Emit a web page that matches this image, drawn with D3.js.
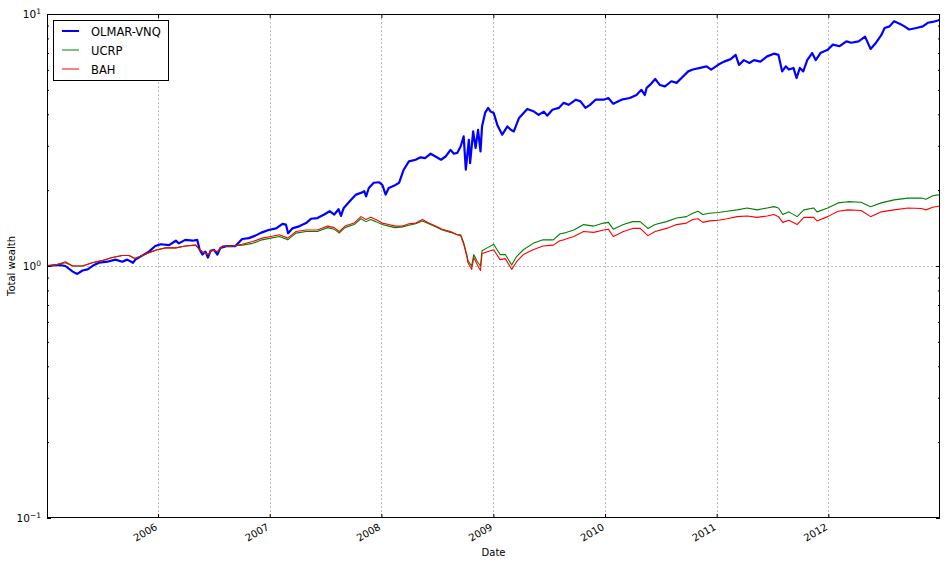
<!DOCTYPE html>
<html>
<head>
<meta charset="utf-8">
<script src="https://cdn.jsdelivr.net/npm/d3@7"></script>
<style>
body { margin: 0; background: #fff; }
svg { display: block; font-family: "DejaVu Sans", sans-serif; }
</style>
</head>
<body>
<div id="chart"></div>
<script>
// OLMAR-VNQ total wealth
const olmarDates = [
    '2005-01-03','2005-02-11','2005-03-04','2005-03-28','2005-04-12','2005-04-29','2005-05-16','2005-06-06',
    '2005-06-22','2005-07-19','2005-08-15','2005-09-06','2005-09-22','2005-10-11','2005-10-19','2005-11-10',
    '2005-12-02','2005-12-23','2006-01-10','2006-02-06','2006-02-28','2006-03-10','2006-03-31','2006-04-24',
    '2006-05-09','2006-05-17','2006-05-26','2006-06-05','2006-06-13','2006-06-22','2006-07-03','2006-07-14',
    '2006-07-24','2006-08-15','2006-09-11','2006-10-03','2006-10-25','2006-11-15','2006-12-07','2006-12-28',
    '2007-01-22','2007-02-12','2007-02-23','2007-03-02','2007-03-16','2007-04-09','2007-04-30','2007-05-16',
    '2007-06-06','2007-06-28','2007-07-16','2007-07-31','2007-08-14','2007-08-22','2007-08-31','2007-09-24',
    '2007-10-10','2007-10-26','2007-11-06','2007-11-12','2007-11-21','2007-12-07','2007-12-24','2008-01-04',
    '2008-01-15','2008-01-25','2008-02-11','2008-02-28','2008-03-14','2008-03-31','2008-04-22','2008-05-08',
    '2008-05-23','2008-06-10','2008-06-26','2008-07-14','2008-07-29','2008-08-14','2008-08-25','2008-09-05',
    '2008-09-16','2008-09-26','2008-10-03','2008-10-13','2008-10-17','2008-10-27','2008-11-04','2008-11-12',
    '2008-11-20','2008-11-25','2008-12-05','2008-12-15','2008-12-23','2009-01-02','2009-01-14','2009-01-30',
    '2009-02-16','2009-02-27','2009-03-09','2009-03-26','2009-04-22','2009-05-14','2009-05-29','2009-06-15',
    '2009-06-26','2009-07-13','2009-08-03','2009-08-19','2009-09-04','2009-09-28','2009-10-13','2009-10-29',
    '2009-11-13','2009-12-01','2009-12-28','2010-01-12','2010-01-28','2010-02-24','2010-03-23','2010-04-14',
    '2010-04-30','2010-05-11','2010-05-17','2010-05-28','2010-06-14','2010-06-29','2010-07-16','2010-08-06',
    '2010-08-23','2010-09-08','2010-09-30','2010-10-15','2010-11-08','2010-11-29','2010-12-14','2011-01-07',
    '2011-01-25','2011-02-16','2011-03-04','2011-03-15','2011-03-31','2011-04-18','2011-05-03','2011-05-24',
    '2011-06-15','2011-07-07','2011-07-22','2011-08-03','2011-08-15','2011-08-25','2011-09-09','2011-09-19',
    '2011-09-30','2011-10-11','2011-10-24','2011-11-09','2011-11-21','2011-12-06','2011-12-30','2012-01-16',
    '2012-02-07','2012-02-29','2012-03-16','2012-04-09','2012-04-30','2012-05-18','2012-06-05','2012-06-22',
    '2012-07-03','2012-07-19','2012-08-03','2012-08-21','2012-09-06','2012-09-21','2012-10-15','2012-11-05',
    '2012-11-21','2012-12-07','2012-12-24','2012-12-31'
];
const olmarValues = [
    1.00, 1.01, 1.00, 0.95, 0.93, 0.96, 0.97, 1.01,
    1.03, 1.04, 1.06, 1.04, 1.06, 1.03, 1.06, 1.10,
    1.14, 1.20, 1.22, 1.21, 1.26, 1.23, 1.27, 1.26,
    1.27, 1.16, 1.11, 1.14, 1.08, 1.15, 1.16, 1.11,
    1.18, 1.20, 1.20, 1.28, 1.29, 1.32, 1.36, 1.39,
    1.41, 1.47, 1.46, 1.35, 1.41, 1.44, 1.48, 1.54,
    1.55, 1.60, 1.65, 1.60, 1.68, 1.58, 1.70, 1.83,
    1.92, 1.95, 1.98, 1.89, 2.04, 2.14, 2.15, 2.10,
    1.92, 2.04, 2.08, 2.14, 2.41, 2.60, 2.64, 2.70,
    2.68, 2.79, 2.72, 2.64, 2.72, 2.89, 2.79, 2.81,
    2.98, 3.27, 2.41, 3.17, 2.56, 3.42, 2.94, 3.47,
    2.85, 3.58, 4.05, 4.24, 4.10, 4.05, 3.63, 3.32,
    3.58, 3.47, 3.42, 3.87, 4.20, 4.10, 3.98, 4.10,
    3.95, 4.17, 4.24, 4.44, 4.36, 4.57, 4.50, 4.24,
    4.36, 4.57, 4.57, 4.64, 4.40, 4.57, 4.64, 4.77,
    5.00, 4.77, 5.09, 5.23, 5.52, 5.23, 5.16, 5.41,
    5.33, 5.57, 5.92, 6.02, 6.11, 6.20, 6.02, 6.30,
    6.47, 6.62, 6.88, 6.28, 6.56, 6.39, 6.56, 6.47,
    6.79, 6.96, 6.88, 5.92, 6.20, 6.02, 6.11, 5.57,
    6.11, 5.92, 6.56, 7.00, 6.56, 7.00, 7.21, 7.56,
    7.45, 7.79, 7.69, 7.79, 8.13, 7.27, 7.69, 8.24,
    8.80, 8.93, 9.36, 9.15, 8.93, 8.68, 8.80, 8.93,
    9.23, 9.30, 9.42, 9.50
];

// UCRP and BAH share one date list
const benchDates = [
    '2005-01-03','2005-02-01','2005-03-04','2005-03-28','2005-04-29','2005-05-31','2005-07-01','2005-08-04',
    '2005-09-06','2005-09-28','2005-10-17','2005-11-10','2005-12-02','2005-12-29','2006-01-26','2006-02-28',
    '2006-03-31','2006-05-04','2006-05-17','2006-05-31','2006-06-14','2006-06-27','2006-07-14','2006-07-31',
    '2006-09-01','2006-10-03','2006-11-06','2006-12-07','2007-01-04','2007-02-02','2007-03-01','2007-03-28',
    '2007-04-30','2007-06-06','2007-07-09','2007-07-31','2007-08-16','2007-09-04','2007-10-04','2007-10-26',
    '2007-11-12','2007-11-27','2007-12-14','2008-01-04','2008-01-25','2008-02-15','2008-03-10','2008-03-31',
    '2008-04-22','2008-05-14','2008-06-04','2008-06-26','2008-07-18','2008-08-14','2008-09-05','2008-09-16',
    '2008-09-26','2008-10-07','2008-10-10','2008-10-22','2008-10-29','2008-11-10','2008-11-20','2008-11-25',
    '2008-12-12','2009-01-02','2009-01-23','2009-02-09','2009-03-02','2009-03-18','2009-04-09','2009-05-11',
    '2009-06-12','2009-07-16','2009-08-06','2009-08-19','2009-09-21','2009-10-23','2009-11-25','2009-12-28',
    '2010-01-12','2010-01-28','2010-03-02','2010-04-02','2010-04-26','2010-05-21','2010-06-14','2010-07-21',
    '2010-08-23','2010-09-24','2010-10-15','2010-11-01','2010-11-17','2010-12-09','2011-01-07','2011-02-04',
    '2011-03-09','2011-04-11','2011-05-13','2011-06-15','2011-07-07','2011-07-22','2011-08-05','2011-08-25',
    '2011-09-21','2011-10-13','2011-11-14','2011-11-25','2011-12-30','2012-02-02','2012-03-05','2012-04-17',
    '2012-05-18','2012-06-22','2012-08-03','2012-09-17','2012-10-31','2012-11-15','2012-12-07','2012-12-31'
];
const ucrpValues = [
    1.00, 1.01, 1.03, 1.00, 1.00, 1.03, 1.05, 1.08,
    1.10, 1.10, 1.07, 1.10, 1.13, 1.16, 1.18, 1.18,
    1.20, 1.21, 1.16, 1.13, 1.11, 1.16, 1.14, 1.20,
    1.20, 1.21, 1.23, 1.27, 1.29, 1.31, 1.27, 1.35,
    1.37, 1.37, 1.42, 1.40, 1.35, 1.42, 1.46, 1.54,
    1.50, 1.53, 1.50, 1.46, 1.44, 1.42, 1.43, 1.45,
    1.47, 1.51, 1.47, 1.43, 1.39, 1.36, 1.33, 1.33,
    1.24, 1.10, 1.05, 1.00, 1.11, 1.04, 1.00, 1.15,
    1.18, 1.22, 1.11, 1.11, 1.01, 1.09, 1.16, 1.23,
    1.27, 1.27, 1.34, 1.35, 1.39, 1.46, 1.44, 1.48,
    1.49, 1.40, 1.46, 1.50, 1.50, 1.41, 1.46, 1.50,
    1.55, 1.57, 1.62, 1.65, 1.60, 1.62, 1.63, 1.65,
    1.67, 1.70, 1.67, 1.70, 1.72, 1.70, 1.60, 1.64,
    1.57, 1.67, 1.70, 1.64, 1.70, 1.78, 1.80, 1.79,
    1.72, 1.78, 1.83, 1.86, 1.86, 1.84, 1.90, 1.92
];
const bahValues = [
    1.00, 1.01, 1.04, 1.00, 1.00, 1.03, 1.05, 1.08,
    1.10, 1.10, 1.07, 1.10, 1.13, 1.16, 1.18, 1.18,
    1.20, 1.21, 1.16, 1.13, 1.11, 1.16, 1.14, 1.20,
    1.20, 1.22, 1.25, 1.29, 1.31, 1.33, 1.29, 1.37,
    1.39, 1.39, 1.44, 1.42, 1.37, 1.44, 1.48, 1.57,
    1.53, 1.56, 1.53, 1.48, 1.46, 1.44, 1.44, 1.47,
    1.48, 1.53, 1.48, 1.44, 1.40, 1.37, 1.33, 1.32,
    1.22, 1.08, 1.03, 0.97, 1.08, 1.01, 0.96, 1.12,
    1.14, 1.16, 1.06, 1.07, 0.97, 1.04, 1.11, 1.16,
    1.20, 1.21, 1.26, 1.27, 1.31, 1.37, 1.36, 1.39,
    1.40, 1.31, 1.37, 1.41, 1.41, 1.32, 1.37, 1.41,
    1.46, 1.48, 1.53, 1.54, 1.49, 1.51, 1.52, 1.54,
    1.57, 1.58, 1.56, 1.58, 1.60, 1.57, 1.49, 1.52,
    1.46, 1.56, 1.56, 1.51, 1.57, 1.65, 1.67, 1.66,
    1.57, 1.64, 1.67, 1.70, 1.69, 1.67, 1.71, 1.73
];

const seriesNames = ['OLMAR-VNQ', 'UCRP', 'BAH'];
const seriesColors = ['#0000ff', '#008000', '#ff0000'];
const seriesWidths = [2.2, 1.1, 1.1];

const yearTicks = ['2006', '2007', '2008', '2009', '2010', '2011', '2012'];
const yMajor = [0.1, 1, 10];
const yMajorExp = ['\u22121', '0', '1'];

const parseDate = d3.timeParse('%Y-%m-%d');
const parseYear = d3.timeParse('%Y');

const plotLeft = 47, plotRight = 940, plotTop = 14, plotBottom = 518;

const svg = d3.select('#chart').append('svg')
    .attr('width', 947)
    .attr('height', 565);

const x = d3.scaleTime()
    .domain([parseDate('2005-01-03'), parseDate('2012-12-31')])
    .range([plotLeft, plotRight]);

const y = d3.scaleLog()
    .domain([0.1, 10])
    .range([plotBottom, plotTop]);

const yMinor = [];
[0.1, 1].forEach(base => {
    for (let k = 2; k <= 9; k++) yMinor.push(base * k);
});

// dotted grid
const gridColor = '#bdbdbd';
svg.append('g').selectAll('line')
    .data(yearTicks)
    .enter().append('line')
    .attr('x1', d => Math.round(x(parseYear(d))) + 0.5)
    .attr('x2', d => Math.round(x(parseYear(d))) + 0.5)
    .attr('y1', plotTop)
    .attr('y2', plotBottom)
    .attr('stroke', gridColor)
    .attr('stroke-dasharray', '2,2');

svg.append('line')
    .attr('x1', plotLeft)
    .attr('x2', plotRight)
    .attr('y1', Math.round(y(1)) + 0.5)
    .attr('y2', Math.round(y(1)) + 0.5)
    .attr('stroke', gridColor)
    .attr('stroke-dasharray', '2,2');

// lines
svg.append('clipPath').attr('id', 'plot-clip')
    .append('rect')
    .attr('x', plotLeft).attr('y', plotTop)
    .attr('width', plotRight - plotLeft).attr('height', plotBottom - plotTop);

const line = d3.line()
    .x(d => x(d.date))
    .y(d => y(d.value));

const seriesData = [
    olmarDates.map((d, i) => ({ date: parseDate(d), value: olmarValues[i] })),
    benchDates.map((d, i) => ({ date: parseDate(d), value: ucrpValues[i] })),
    benchDates.map((d, i) => ({ date: parseDate(d), value: bahValues[i] }))
];

svg.append('g')
    .attr('clip-path', 'url(#plot-clip)')
    .selectAll('path')
    .data(seriesData)
    .enter().append('path')
    .attr('d', line)
    .attr('fill', 'none')
    .attr('stroke', (d, i) => seriesColors[i])
    .attr('stroke-width', (d, i) => seriesWidths[i])
    .attr('stroke-linejoin', 'round');

// ticks, pointing inward like matplotlib
function styleTicks(g) {
    g.select('.domain').remove();
    g.selectAll('.tick line').attr('stroke', '#000');
}

svg.append('g')
    .attr('transform', `translate(0,${plotBottom})`)
    .call(d3.axisBottom(x).tickValues(yearTicks.map(parseYear)).tickSize(-4).tickFormat(''))
    .call(styleTicks);
svg.append('g')
    .attr('transform', `translate(0,${plotTop})`)
    .call(d3.axisTop(x).tickValues(yearTicks.map(parseYear)).tickSize(-4).tickFormat(''))
    .call(styleTicks);

svg.append('g')
    .attr('transform', `translate(${plotLeft},0)`)
    .call(d3.axisLeft(y).tickValues(yMajor).tickSize(-4).tickFormat(''))
    .call(styleTicks);
svg.append('g')
    .attr('transform', `translate(${plotLeft},0)`)
    .call(d3.axisLeft(y).tickValues(yMinor).tickSize(-2).tickFormat(''))
    .call(styleTicks);
svg.append('g')
    .attr('transform', `translate(${plotRight},0)`)
    .call(d3.axisRight(y).tickValues(yMajor).tickSize(-4).tickFormat(''))
    .call(styleTicks);
svg.append('g')
    .attr('transform', `translate(${plotRight},0)`)
    .call(d3.axisRight(y).tickValues(yMinor).tickSize(-2).tickFormat(''))
    .call(styleTicks);

// frame
svg.append('rect')
    .attr('x', plotLeft + 0.5)
    .attr('y', plotTop + 0.5)
    .attr('width', plotRight - plotLeft - 1)
    .attr('height', plotBottom - plotTop - 1)
    .attr('fill', 'none')
    .attr('stroke', '#000')
    .attr('stroke-width', 1);

// year labels, rotated
svg.append('g').selectAll('text')
    .data(yearTicks)
    .enter().append('text')
    .attr('transform', d => `translate(${x(parseYear(d))},529) rotate(-30)`)
    .attr('text-anchor', 'end')
    .attr('font-size', 10)
    .attr('fill', '#000')
    .text(d => d);

// y labels, 10^n
const yLab = svg.append('g').selectAll('text')
    .data(yMajor)
    .enter().append('text')
    .attr('x', 41)
    .attr('y', d => y(d) + 4)
    .attr('text-anchor', 'end')
    .attr('font-size', 10.5)
    .attr('fill', '#000');
yLab.append('tspan').text('10');
yLab.append('tspan')
    .attr('dy', -4.5)
    .attr('font-size', 7.5)
    .text((d, i) => yMajorExp[i]);

// axis titles
svg.append('text')
    .attr('x', (plotLeft + plotRight) / 2)
    .attr('y', 556)
    .attr('text-anchor', 'middle')
    .attr('font-size', 10)
    .text('Date');

svg.append('text')
    .attr('transform', `translate(14.5,${(plotTop + plotBottom) / 2}) rotate(-90)`)
    .attr('text-anchor', 'middle')
    .attr('font-size', 10)
    .text('Total wealth');

// legend
const legend = svg.append('g');
legend.append('rect')
    .attr('x', 53.5)
    .attr('y', 20.5)
    .attr('width', 115)
    .attr('height', 60)
    .attr('fill', '#fff')
    .attr('stroke', '#000');

const rows = legend.selectAll('g.row')
    .data(seriesNames)
    .enter().append('g')
    .attr('class', 'row')
    .attr('transform', (d, i) => `translate(0,${31 + i * 19})`);
rows.append('line')
    .attr('x1', 62)
    .attr('x2', 79)
    .attr('stroke', (d, i) => seriesColors[i])
    .attr('stroke-width', (d, i) => i === 0 ? 2 : 1);
rows.append('text')
    .attr('x', 91)
    .attr('y', 4.5)
    .attr('font-size', 11.5)
    .text(d => d);
</script>
</body>
</html>
